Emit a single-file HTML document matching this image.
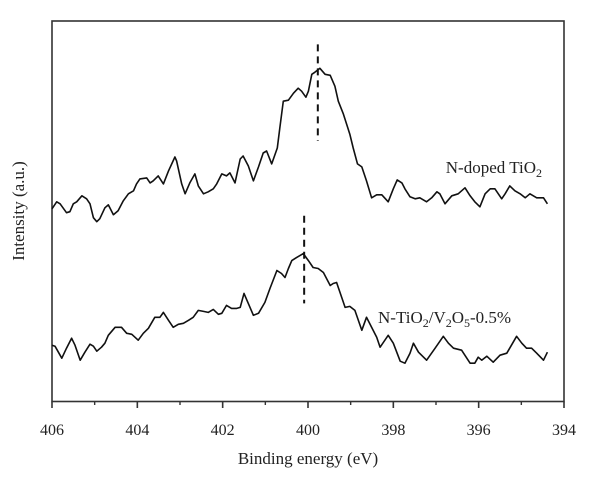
<!DOCTYPE html>
<html><head><meta charset="utf-8"><style>
html,body{margin:0;padding:0;background:#fff}
svg{display:block}
text{font-family:"Liberation Serif",serif;fill:#222}
</style></head><body>
<svg id="chart" width="600" height="492">
<rect x="52" y="21" width="512" height="380.5" fill="none" stroke="#333" stroke-width="1.6"/>
<g id="xticks"></g>
<g id="series"></g>
<text x="308" y="464" font-size="17" text-anchor="middle">Binding energy (eV)</text>
<text transform="translate(24,211) rotate(-90)" font-size="17" text-anchor="middle">Intensity (a.u.)</text>
<text x="542" y="173" font-size="17" text-anchor="end">N-doped TiO<tspan font-size="12" dy="4">2</tspan></text>
<text x="378" y="323" font-size="17">N-TiO<tspan font-size="12" dy="4">2</tspan><tspan dy="-4">/V</tspan><tspan font-size="12" dy="4">2</tspan><tspan dy="-4">O</tspan><tspan font-size="12" dy="4">5</tspan><tspan dy="-4">-0.5%</tspan></text>
</svg>
<script>
const tickValues=[406,404,402,400,398,396,394];
const minorTicks=[405,403,401,399,397,395];
const topEnergy=[406.00,405.89,405.81,405.66,405.58,405.50,405.42,405.30,405.19,405.11,
405.03,404.95,404.88,404.76,404.68,404.56,404.45,404.33,404.21,404.09,
404.02,403.94,403.78,403.70,403.63,403.51,403.39,403.27,403.12,403.08,
402.96,402.88,402.77,402.65,402.57,402.45,402.34,402.22,402.14,402.02,
401.91,401.83,401.71,401.59,401.52,401.40,401.28,401.16,401.05,400.97,
400.85,400.72,400.66,400.58,400.46,400.34,400.23,400.15,400.05,399.99,
399.91,399.84,399.72,399.60,399.48,399.37,399.29,399.17,399.02,398.94,
398.84,398.74,398.63,398.51,398.39,398.27,398.12,398.00,397.91,397.80,
397.73,397.61,397.49,397.38,397.22,397.10,396.98,396.91,396.79,396.63,
396.48,396.32,396.20,396.09,395.97,395.85,395.73,395.62,395.46,395.38,
395.27,395.15,395.03,394.91,394.80,394.64,394.48,394.39];
const topIntensity=[192,199,197,188,189,197,199,205,202,197,
183,179,182,193,196,186,190,200,207,210,
217,222,223,218,220,225,217,230,244,240,
217,207,218,227,215,207,209,212,217,227,
225,228,218,242,245,235,220,234,248,250,
237,253,273,300,301,308,313,310,304,310,
327,329,333,327,326,315,300,287,267,253,
237,234,220,203,206,206,199,212,221,218,
212,204,202,203,199,203,209,207,197,205,
207,213,205,199,194,207,212,212,202,207,
215,210,207,203,207,203,203,197];
const bottomEnergy=[406.00,405.93,405.77,405.66,405.54,405.46,405.34,405.23,405.11,405.03,
404.95,404.84,404.76,404.68,404.52,404.37,404.25,404.13,403.98,403.86,
403.74,403.59,403.47,403.39,403.27,403.16,403.04,402.92,402.80,402.69,
402.57,402.45,402.34,402.22,402.10,402.02,401.91,401.79,401.67,401.59,
401.50,401.40,401.28,401.16,401.01,400.89,400.73,400.62,400.54,400.46,
400.38,400.27,400.11,399.99,399.88,399.76,399.64,399.48,399.41,399.33,
399.21,399.13,399.02,398.90,398.74,398.63,398.51,398.39,398.31,398.12,
398.00,397.84,397.73,397.61,397.53,397.41,397.22,397.02,396.83,396.71,
396.59,396.40,396.20,396.09,396.01,395.93,395.81,395.66,395.50,395.34,
395.11,394.99,394.88,394.76,394.64,394.48,394.39];
const bottomIntensity=[55,54,42,52,62,55,40,48,56,54,
49,53,57,65,73,73,67,66,60,67,
72,83,83,88,80,73,76,77,80,83,
90,89,88,91,86,87,95,92,92,93,
107,97,85,87,98,112,130,127,123,132,
140,143,147,140,133,132,128,115,117,118,
103,93,94,90,70,83,73,63,53,65,
57,39,37,47,57,48,40,52,64,57,
52,50,37,37,43,40,44,38,45,47,
64,57,52,52,47,40,48];
const peakEnergy=[399.77,400.09];
const peakFrom=[260,97];
const peakTo=[357,185];

const NS="http://www.w3.org/2000/svg";
function xs(e){return 52+(406-e)/12*512;}
function ys(v){return 401.5-(v+1.5)/382*380.5;}
const gx=document.getElementById('xticks');
tickValues.forEach(t=>{
 const l=document.createElementNS(NS,'line');
 l.setAttribute('x1',xs(t));l.setAttribute('x2',xs(t));l.setAttribute('y1',401.5);l.setAttribute('y2',408);
 l.setAttribute('stroke','#333');l.setAttribute('stroke-width','1.6');
 
 
 gx.appendChild(l);
 const tx=document.createElementNS(NS,'text');
 tx.setAttribute('x',xs(t));tx.setAttribute('y',435);tx.setAttribute('font-size','16');tx.setAttribute('text-anchor','middle');
 tx.textContent=t;
 
 
 gx.appendChild(tx);
});
minorTicks.forEach(t=>{
 const l=document.createElementNS(NS,'line');
 l.setAttribute('x1',xs(t));l.setAttribute('x2',xs(t));l.setAttribute('y1',401.5);l.setAttribute('y2',405);
 l.setAttribute('stroke','#333');l.setAttribute('stroke-width','1.4');
 
 
 gx.appendChild(l);
});
const gs=document.getElementById('series');
function drawLine(E,I,name){
 const p=document.createElementNS(NS,'path');
 p.setAttribute('d',E.map((e,i)=>(i?'L':'M')+xs(e).toFixed(1)+' '+ys(I[i]).toFixed(1)).join(' '));
 p.setAttribute('fill','none');p.setAttribute('stroke','#111');p.setAttribute('stroke-width','1.6');p.setAttribute('stroke-linejoin','round');
 
 
 gs.appendChild(p);
}
drawLine(topEnergy,topIntensity,'n-doped-tio2-line');
drawLine(bottomEnergy,bottomIntensity,'n-tio2-v2o5-line');
peakEnergy.forEach((e,i)=>{
 const l=document.createElementNS(NS,'line');
 l.setAttribute('x1',xs(e));l.setAttribute('x2',xs(e));l.setAttribute('y1',ys(peakTo[i]));l.setAttribute('y2',ys(peakFrom[i]));
 l.setAttribute('stroke','#111');l.setAttribute('stroke-width','2');l.setAttribute('stroke-dasharray','7 5');
 
 
 gs.appendChild(l);
});
</script>
</body></html>
